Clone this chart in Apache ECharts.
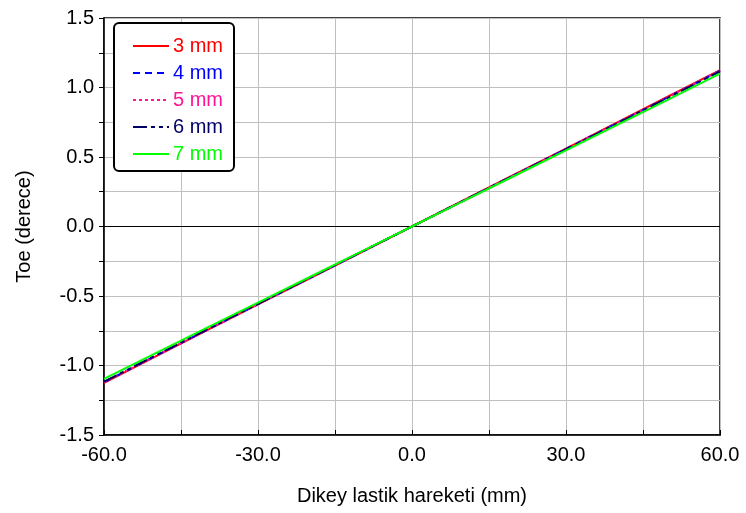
<!DOCTYPE html>
<html>
<head>
<meta charset="utf-8">
<script src="https://cdn.jsdelivr.net/npm/echarts@6/dist/echarts.min.js"></script>
<style>html,body{margin:0;padding:0;background:#fff;}#c{width:746px;height:513px;}</style>
</head>
<body>
<div id="c"></div>
<script>
var xValues = [-60, -50, -40, -30, -20, -10, 0, 10, 20, 30, 40, 50, 60];
var seriesNames = ['3 mm', '4 mm', '5 mm', '6 mm', '7 mm'];
var toe3 = [-1.125, -0.936, -0.748, -0.561, -0.374, -0.187, 0, 0.187, 0.374, 0.561, 0.749, 0.937, 1.125];
var toe4 = [-1.120, -0.932, -0.745, -0.558, -0.372, -0.186, 0, 0.186, 0.372, 0.558, 0.745, 0.932, 1.120];
var toe5 = [-1.122, -0.934, -0.746, -0.559, -0.373, -0.186, 0, 0.186, 0.373, 0.559, 0.746, 0.934, 1.122];
var toe6 = [-1.116, -0.929, -0.742, -0.556, -0.370, -0.185, 0, 0.185, 0.370, 0.556, 0.742, 0.929, 1.116];
var toe7 = [-1.096, -0.913, -0.730, -0.547, -0.365, -0.182, 0, 0.182, 0.365, 0.548, 0.731, 0.915, 1.100];
var yTickLabels = ['-1.5', '-1.0', '-0.5', '0.0', '0.5', '1.0', '1.5'];
var xTickLabels = ['-60.0', '-30.0', '0.0', '30.0', '60.0'];

var colors = ['#ff0000', '#0000ff', '#ff1493', '#000066', '#00ff00'];
var types = ['solid', [7, 5], [3, 3], [14, 4, 4, 4, 4, 4], 'solid'];
var dataSets = [toe3, toe4, toe5, toe6, toe7];
var FONT = 'Liberation Sans, Arial, sans-serif';

function pairs(ys) { return xValues.map(function (x, i) { return [x, ys[i]]; }); }

var series = dataSets.map(function (d, i) {
  var s = {
    name: seriesNames[i], type: 'line', data: pairs(d), symbol: 'none', showSymbol: false,
    lineStyle: { color: colors[i], width: 2, type: types[i] },
    itemStyle: { color: colors[i] }, z: 3
  };
  if (i === 0) {
    s.markLine = { silent: true, symbol: 'none', label: { show: false },
      lineStyle: { color: '#000', width: 1, type: 'solid' }, data: [{ yAxis: 0 }], z: 2 };
  }
  return s;
});

var chart = echarts.init(document.getElementById('c'));
chart.setOption({
  animation: false,
  backgroundColor: '#fff',
  grid: { left: 104, right: 26, top: 18, bottom: 78, show: true, borderColor: '#000', borderWidth: 1.5, backgroundColor: 'transparent' },
  legend: {
    left: 114, top: 23, orient: 'vertical', itemWidth: 36, itemHeight: 14, itemGap: 7,
    backgroundColor: '#fff', borderColor: '#000', borderWidth: 2, borderRadius: 5,
    padding: [13, 11, 7, 18],
    itemStyle: { opacity: 0 },
    data: seriesNames.map(function (n, i) { return { name: n, textStyle: { color: colors[i] } }; }),
    textStyle: { fontFamily: FONT, fontSize: 20, lineHeight: 20, padding: [0, 0, 0, -1] }
  },
  xAxis: {
    type: 'value', min: -60, max: 60, interval: 15,
    axisLine: { onZero: false, lineStyle: { color: '#000', width: 1.5 } },
    axisTick: { show: true, inside: true, length: 5, lineStyle: { color: '#000' } },
    splitLine: { show: true, lineStyle: { color: '#c0c0c0', width: 1 } },
    axisLabel: { fontFamily: FONT, fontSize: 20, color: '#000', margin: 10,
      formatter: function (v) { var k = Math.round(v / 30); return (Math.abs(v - k * 30) < 1e-6) ? xTickLabels[k + 2] : ''; } },
    name: 'Dikey lastik hareketi (mm)', nameLocation: 'middle', nameGap: 51,
    nameTextStyle: { fontFamily: FONT, fontSize: 20, color: '#000' }
  },
  yAxis: {
    type: 'value', min: -1.5, max: 1.5, interval: 0.25,
    axisLine: { onZero: false, lineStyle: { color: '#000', width: 1.5 } },
    axisTick: { show: true, inside: false, length: 5, lineStyle: { color: '#000' } },
    splitLine: { show: true, lineStyle: { color: '#c0c0c0', width: 1 } },
    axisLabel: { fontFamily: FONT, fontSize: 20, color: '#000', margin: 10,
      formatter: function (v) { var k = Math.round(v / 0.5); return (Math.abs(v - k * 0.5) < 1e-6) ? yTickLabels[k + 3] : ''; } },
    name: 'Toe (derece)', nameLocation: 'middle', nameGap: 70, nameRotate: 90,
    nameTextStyle: { fontFamily: FONT, fontSize: 20, color: '#000' }
  },
  series: series
});
</script>
</body>
</html>
